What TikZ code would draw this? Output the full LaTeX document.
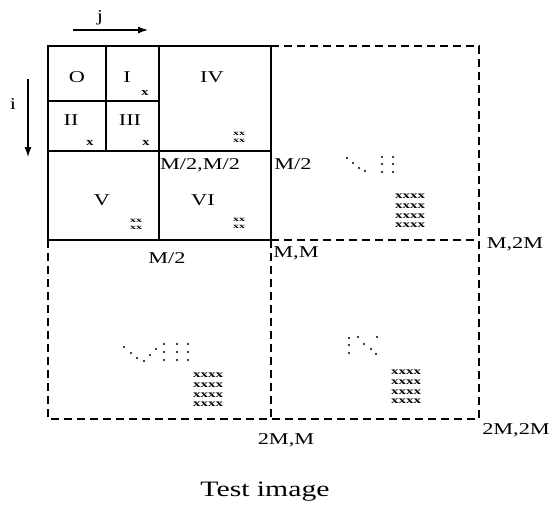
\documentclass[tikz,border=0pt]{standalone}
\usepackage{fontspec}
\setmainfont{Liberation Serif}[FakeStretch=1.35]
\newfontfamily\xfont{Liberation Serif}[FakeStretch=1.3]
\newfontfamily\xwfont{Liberation Serif}[FakeStretch=1.5]
\newfontfamily\xsfont{Liberation Serif}[FakeStretch=1.7]
\usetikzlibrary{arrows.meta}
\tikzset{
  lbl/.style={inner sep=0pt, font=\fontsize{16.5}{18}\selectfont},
  sub/.style={inner sep=0pt, font=\xfont\bfseries\fontsize{11}{11}\selectfont},
  xx/.style={inner sep=0pt, align=center, font=\xsfont\bfseries\fontsize{7}{7}\selectfont},
  xxxx/.style={inner sep=0pt, align=center, font=\xwfont\bfseries\fontsize{10}{9.6}\selectfont},
  solidln/.style={line width=1.5pt},
  dashln/.style={line width=1.3pt, dash pattern=on 8pt off 5pt},
  arr/.style={line width=1.2pt, -{Latex[length=10pt,width=7pt]}},
  dotm/.style={fill=black}
}
\begin{document}
\begin{tikzpicture}[x=1pt,y=-1pt]
\useasboundingbox (0,0) rectangle (555,512);
% coordinates
\coordinate (TL) at (48,46);
\coordinate (TM) at (271,46);
\coordinate (TR) at (479,46);
\coordinate (ML) at (48,240);
\coordinate (MM) at (271,240);
\coordinate (MR) at (479,240);
\coordinate (BL) at (48,419);
\coordinate (BM) at (271,419);
\coordinate (BR) at (479,419);
% solid block
\draw[solidln] (TL) rectangle (MM);
\draw[solidln] (48,151) -- (271,151);
\draw[solidln] (159,46) -- (159,240);
\draw[solidln] (48,101) -- (159,101);
\draw[solidln] (106,46) -- (106,151);
% dashed
\draw[dashln] (TM) -- (TR) -- (BR) -- (BL) -- (ML);
\draw[dashln] (MM) -- (MR);
\draw[dashln] (MM) -- (BM);
% axes
\coordinate (ja) at (73,30); \coordinate (jb) at (148,30);
\coordinate (ia) at (28,79); \coordinate (ib) at (28,157);
\draw[arr] (ja) -- (jb);
\draw[arr] (ia) -- (ib);
\node[lbl] (j) at (100,18) {j};
\node[lbl] (i) at (13,104) {i};
% block labels
\node[lbl] (n0) at (77,77) {O};
\node[lbl] (n1) at (127,77) {I};
\node[sub] (x1) at (145,93) {x};
\node[lbl] (n4) at (212,77) {IV};
\node[lbl] (n2) at (71,120) {II};
\node[sub] (x2) at (90,143) {x};
\node[lbl] (n3) at (130,120) {III};
\node[sub] (x3) at (146,143) {x};
\node[lbl] (mm2) at (200,165) {M/2,M/2};
\node[lbl] (n5) at (102,200) {V};
\node[lbl] (n6) at (203,200) {VI};
% small 2x2 stacks
\node[xx] (s4) at (239,137) {xx\\xx};
\node[xx] (s5) at (136,224) {xx\\xx};
\node[xx] (s6) at (239,223) {xx\\xx};
% edge labels
\node[lbl] (m2r) at (293,164) {M/2};
\node[lbl] (m2b) at (167,258) {M/2};
\node[lbl] (mmm) at (296,253) {M,M};
\node[lbl] (m2m) at (515,244) {M,2M};
\node[lbl] (tmm) at (286,440) {2M,M};
\node[lbl] (t2m) at (516,430) {2M,2M};
\node[inner sep=0pt, font=\fontsize{22}{24}\selectfont] (cap) at (265,492) {Test image};
% 4x4 blocks
\node[xxxx] (b1) at (410,211) {xxxx\\xxxx\\xxxx\\xxxx};
\node[xxxx] (b2) at (208,390) {xxxx\\xxxx\\xxxx\\xxxx};
\node[xxxx] (b3) at (406,387) {xxxx\\xxxx\\xxxx\\xxxx};
% dotted marks upper right
\foreach \p in {(347,158),(353,163),(359,168),(365,171),
  (382,157),(382,164),(382,172),(393,157),(393,164),(393,172)}
  \fill[dotm] \p circle (1.1);
% dotted marks lower left
\foreach \p in {(124,347),(131,353),(137,358),(144,361),(150,355),(156,349),
  (164,344),(164,352),(164,360),(177,344),(177,352),(177,360),(188,344),(188,352),(188,360)}
  \fill[dotm] \p circle (1.1);
% dotted marks lower right
\foreach \p in {(349,338),(349,345),(349,353),(358,337),(364,344),(371,349),(376,354),(377,337)}
  \fill[dotm] \p circle (1.1);
\end{tikzpicture}
\end{document}
